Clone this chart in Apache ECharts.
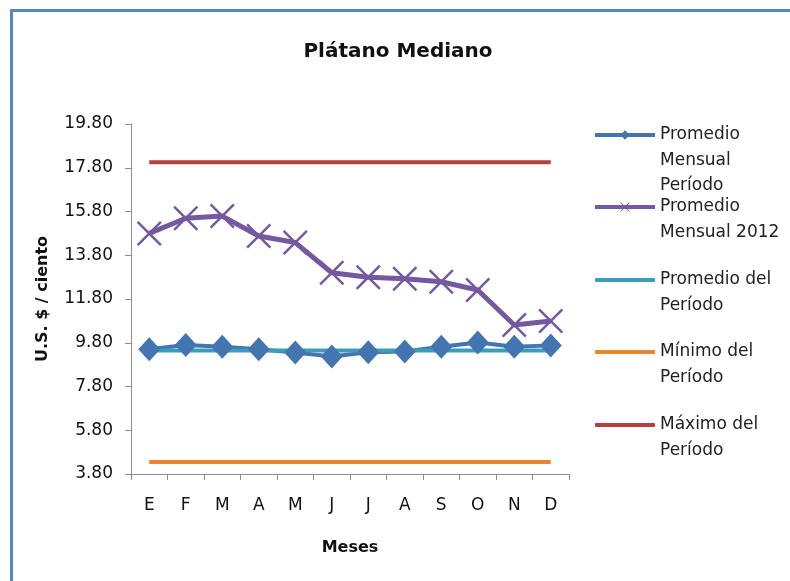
<!DOCTYPE html>
<html>
<head>
<meta charset="utf-8">
<script src="https://cdn.jsdelivr.net/npm/echarts@6/dist/echarts.min.js"></script>
<style>
  html, body { margin: 0; padding: 0; background: #fff; }
  #wrap { position: relative; width: 790px; height: 581px; overflow: hidden; }
  #main { width: 790px; height: 581px; }
  #frame {
    position: absolute; left: 10px; top: 9px; width: 900px; height: 700px;
    border-left: 3px solid #5685c5; border-top: 3px solid #5685c5;
    pointer-events: none;
  }
</style>
</head>
<body>
<div id="wrap">
  <div id="main"></div>
  <div id="frame"></div>
</div>
<script>
// meses
const meses = ["E", "F", "M", "A", "M", "J", "J", "A", "S", "O", "N", "D"];
const promedioMensualPeriodo = [9.50, 9.70, 9.62, 9.50, 9.35, 9.17, 9.37, 9.40, 9.62, 9.81, 9.62, 9.68];
const promedioMensual2012 = [14.80, 15.49, 15.59, 14.68, 14.38, 13.00, 12.79, 12.73, 12.59, 12.21, 10.61, 10.79];
const promedioPeriodo = [9.45, 9.45, 9.45, 9.45, 9.45, 9.45, 9.45, 9.45, 9.45, 9.45, 9.45, 9.45];
const minimoPeriodo = [4.35, 4.35, 4.35, 4.35, 4.35, 4.35, 4.35, 4.35, 4.35, 4.35, 4.35, 4.35];
const maximoPeriodo = [18.05, 18.05, 18.05, 18.05, 18.05, 18.05, 18.05, 18.05, 18.05, 18.05, 18.05, 18.05];
const yTicks = [3.8, 5.8, 7.8, 9.8, 11.8, 13.8, 15.8, 17.8, 19.8];

const seriesNames = [
  "Promedio Mensual Período",
  "Promedio Mensual 2012",
  "Promedio del Período",
  "Mínimo del Período",
  "Máximo del Período"
];
// texto de la leyenda partido en lineas como en Excel
const legendLines = [
  ["Promedio", "Mensual", "Período"],
  ["Promedio", "Mensual 2012"],
  ["Promedio del", "Período"],
  ["Mínimo del", "Período"],
  ["Máximo del", "Período"]
];
const colors = ["#4375b0", "#7559a0", "#3d9db8", "#e98530", "#b5403d"];

const fontFam = "DejaVu Sans";
const lineH = 25.5;
const legendIconY = [135, 207, 280, 352, 425];

// una leyenda por serie, con el icono alineado a la primera linea
let legends = seriesNames.map((name, i) => {
  const k = legendLines[i].length;
  const blanks = new Array(k - 1).fill("");
  const txt = blanks.concat(legendLines[i]).join("\n");
  const plain = i >= 2; // series sin marcador
  return {
    data: [plain ? { name: name, icon: "roundRect" } : name],
    left: plain ? 590 : 588,
    top: legendIconY[i] - (2 * k - 1) * lineH / 2 - 5,
    itemWidth: 60,
    itemHeight: plain ? 4 : 12,
    itemGap: 4,
    lineStyle: { width: 4 },
    formatter: () => txt,
    textStyle: { fontFamily: fontFam, fontSize: 17, color: "#222", lineHeight: lineH }
  };
});

const xMark = "path://M0,0.7 L0.7,0 L5,4.3 L9.3,0 L10,0.7 L5.7,5 L10,9.3 L9.3,10 L5,5.7 L0.7,10 L0,9.3 L4.3,5 Z";

let myChart = echarts.init(document.getElementById("main"));
let option = {
  backgroundColor: "#fff",
  animation: false,
  title: {
    text: "Plátano Mediano",
    left: 393,
    textAlign: "center",
    top: 37,
    textStyle: { fontFamily: fontFam, fontSize: 20, fontWeight: "bold", color: "#111" }
  },
  legend: legends,
  grid: { left: 131, right: 221, top: 124, bottom: 107 },
  xAxis: {
    type: "category",
    data: meses,
    boundaryGap: true,
    name: "Meses",
    nameLocation: "middle",
    nameGap: 66,
    nameTextStyle: { fontFamily: fontFam, fontSize: 16, fontWeight: "bold", color: "#111" },
    axisLine: { lineStyle: { color: "#8c8c8c", width: 1 } },
    axisTick: { show: true, length: 6, lineStyle: { color: "#8c8c8c" } },
    axisLabel: { fontFamily: fontFam, fontSize: 17, color: "#111", margin: 23, interval: 0 }
  },
  yAxis: {
    type: "value",
    min: 3.8,
    max: 19.8,
    name: "U.S. $ / ciento",
    nameLocation: "middle",
    nameGap: 80,
    nameRotate: 90,
    nameTextStyle: { fontFamily: fontFam, fontSize: 16, fontWeight: "bold", color: "#111" },
    splitLine: { show: false },
    axisLine: { show: true, lineStyle: { color: "#8c8c8c", width: 1 } },
    axisTick: { show: true, length: 6, customValues: yTicks, lineStyle: { color: "#8c8c8c" } },
    axisLabel: {
      customValues: yTicks,
      fontFamily: fontFam, fontSize: 17, color: "#111", margin: 18,
      formatter: (v) => v.toFixed(2)
    }
  },
  series: [
    {
      name: seriesNames[0],
      type: "line",
      data: promedioMensualPeriodo,
      symbol: "diamond",
      symbolSize: [22, 24],
      showAllSymbol: true,
      itemStyle: { color: colors[0] },
      lineStyle: { color: colors[0], width: 4 }
    },
    {
      name: seriesNames[1],
      type: "line",
      data: promedioMensual2012,
      symbol: xMark,
      symbolSize: 25,
      showAllSymbol: true,
      itemStyle: { color: colors[1] },
      lineStyle: { color: colors[1], width: 5 }
    },
    {
      name: seriesNames[2],
      type: "line",
      data: promedioPeriodo,
      symbol: "none",
      itemStyle: { color: colors[2] },
      lineStyle: { color: colors[2], width: 4 }
    },
    {
      name: seriesNames[3],
      type: "line",
      data: minimoPeriodo,
      symbol: "none",
      itemStyle: { color: colors[3] },
      lineStyle: { color: colors[3], width: 4 }
    },
    {
      name: seriesNames[4],
      type: "line",
      data: maximoPeriodo,
      symbol: "none",
      itemStyle: { color: colors[4] },
      lineStyle: { color: colors[4], width: 4 }
    }
  ]
};
myChart.setOption(option);
</script>
</body>
</html>
